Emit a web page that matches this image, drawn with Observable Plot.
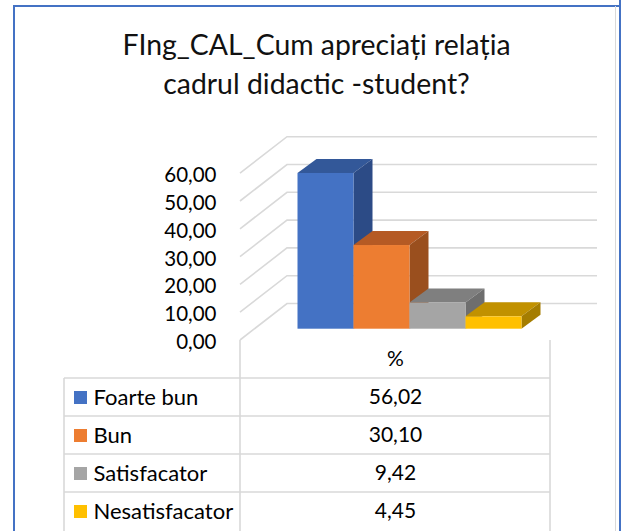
<!DOCTYPE html>
<html><head><meta charset="utf-8">
<script src="https://cdn.jsdelivr.net/npm/d3@7"></script>
<script src="https://cdn.jsdelivr.net/npm/@observablehq/plot@0.6"></script>
<style>
body{margin:0;background:#fff;}
#page{position:relative;width:621px;height:531px;overflow:hidden;background:#fff;font-family:Lato,sans-serif;}
#frame{position:absolute;left:13px;top:4.7px;width:640px;height:560px;border-left:2.7px solid #4472C4;border-top:2px solid #4472C4;}
#grayEdge{position:absolute;left:614.5px;top:6px;width:1px;height:525px;background:#D9D9D9;}
#rightEdge{position:absolute;left:618.6px;top:0;width:2.4px;height:531px;background:#4472C4;}
#title{position:absolute;left:0;width:633px;top:25px;text-align:center;font-size:28.4px;line-height:39px;color:#111;}
#chart{position:absolute;left:0;top:100px;}
#table{position:absolute;left:0;top:340px;}
</style>
</head><body>
<div id="page">
  <div id="frame"></div>
  <div id="grayEdge"></div>
  <div id="rightEdge"></div>
  <div id="title"></div>
  <div id="chart"></div>
  <div id="table"></div>
</div>
<script>
// ---- data ----
const titleLines = ["FIng_CAL_Cum apreciați relația", "cadrul didactic -student?"];
const categories = ["Foarte bun", "Bun", "Satisfacator", "Nesatisfacator"];
const values = [56.02, 30.10, 9.42, 4.45];
const seriesName = "%";
const yTicks = [0, 10, 20, 30, 40, 50, 60];

// ---- styles ----
const frontColors = ["#4472C4", "#ED7D31", "#A5A5A5", "#FFC000"];
const topColors = ["#335899", "#B55A24", "#7F7F7F", "#C19100"];
const sideColors = ["#2C4B86", "#9A4F1E", "#6E6E6E", "#A57D00"];
const gridColor = "#D9D9D9";
const WALL_DX = 47, WALL_DY = -36.5;   // depth of side wall / floor
const BAR_DX = 14.5, BAR_DY = -11.3;   // offset of bar front face inside the depth
const DEPTH_DX = 19, DEPTH_DY = -14;   // bar depth

const fmt = v => d3.format(".2f")(v).replace(".", ",");

document.getElementById("title").innerHTML = titleLines.join("<br>");

// ---- chart ----
const wallGrid = (index, {x, y}, channels, {width, marginLeft, marginRight}) => {
  const g = d3.create("svg:g");
  const x0 = marginLeft, xr = width - marginRight + WALL_DX;
  g.selectAll("path").data(yTicks).join("path")
    .attr("d", t => `M${x0},${y(t)}L${x0 + WALL_DX},${y(t) + WALL_DY}L${xr},${y(t) + WALL_DY}`)
    .attr("fill", "none").attr("stroke", gridColor).attr("stroke-width", 1.6);
  return g.node();
};

const barDepth = (index, {x, y}) => {
  const g = d3.create("svg:g");
  const bw = x.bandwidth();
  categories.forEach((c, i) => {
    const x1 = x(c) + BAR_DX, x2 = x1 + bw;
    const yt = y(values[i]) + BAR_DY, yb = y(0) + BAR_DY;
    g.append("path")
      .attr("d", `M${x1},${yt}L${x2},${yt}L${x2 + DEPTH_DX},${yt + DEPTH_DY}L${x1 + DEPTH_DX},${yt + DEPTH_DY}Z`)
      .attr("fill", topColors[i]);
    g.append("path")
      .attr("d", `M${x2},${yt}L${x2 + DEPTH_DX},${yt + DEPTH_DY}L${x2 + DEPTH_DX},${yb + DEPTH_DY}L${x2},${yb}Z`)
      .attr("fill", sideColors[i]);
  });
  return g.node();
};

const chart = Plot.plot({
  width: 621,
  height: 250,
  marginLeft: 240,
  marginRight: 71,
  marginTop: 20,
  marginBottom: 10,
  style: {background: "transparent", fontFamily: "Lato, sans-serif", fontSize: "20.5px", color: "#000", overflow: "visible"},
  x: {type: "band", domain: categories, range: [240, 550], paddingInner: 0, paddingOuter: 0.7556, axis: null},
  y: {domain: [0, 60], range: [240, 240 - 60 * 2.78], axis: null},
  color: {domain: categories, range: frontColors},
  marks: [
    wallGrid,
    barDepth,
    Plot.barY(values, {x: (d, i) => categories[i], y: d => d, fill: (d, i) => categories[i], inset: 0, dx: BAR_DX, dy: BAR_DY}),
    Plot.axisY({ticks: yTicks, tickFormat: fmt, tickSize: 0, tickPadding: 24, label: null, dy: 2, fill: "#000"})
  ]
});
document.getElementById("chart").append(chart);

// ---- data table ----
const rows = [seriesName, ...categories];
const tableGrid = (index, {x, y}, channels, {width, height, marginLeft}) => {
  const g = d3.create("svg:g").attr("stroke", gridColor).attr("stroke-width", 1.6).attr("fill", "none");
  const xa = x(seriesName), xb = xa + x.bandwidth();
  const yTop = y(categories[0]);
  g.append("line").attr("x1", marginLeft).attr("x2", marginLeft).attr("y1", yTop).attr("y2", height);
  g.append("line").attr("x1", xa).attr("x2", xa).attr("y1", 0).attr("y2", height);
  g.append("line").attr("x1", xb).attr("x2", xb).attr("y1", 0).attr("y2", height);
  categories.forEach(c => {
    g.append("line").attr("x1", marginLeft).attr("x2", xb).attr("y1", y(c)).attr("y2", y(c));
  });
  return g.node();
};

const table = Plot.plot({
  width: 621,
  height: 191,
  marginTop: 0,
  marginBottom: 0,
  marginLeft: 64,
  marginRight: 71,
  style: {background: "transparent", fontFamily: "Lato, sans-serif", fontSize: "21px", color: "#000", overflow: "visible"},
  x: {type: "band", domain: [seriesName], range: [240, 550], padding: 0, axis: null},
  y: {type: "band", domain: rows, range: [-1, 190], padding: 0, axis: null},
  color: {domain: categories, range: frontColors},
  marks: [
    tableGrid,
    Plot.dot(categories, {y: d => d, frameAnchor: "left", dx: 16, symbol: "square", r: 7.33, fill: d => d}),
    Plot.text(categories, {y: d => d, frameAnchor: "left", dx: 29, textAnchor: "start", text: d => d, fill: "#000", fontSize: 22}),
    Plot.text(values, {x: () => seriesName, y: (d, i) => categories[i], text: fmt, fill: "#000"}),
    Plot.text([seriesName], {x: d => d, y: d => d, text: d => d, fill: "#000"})
  ]
});
document.getElementById("table").append(table);
</script>
</body></html>
